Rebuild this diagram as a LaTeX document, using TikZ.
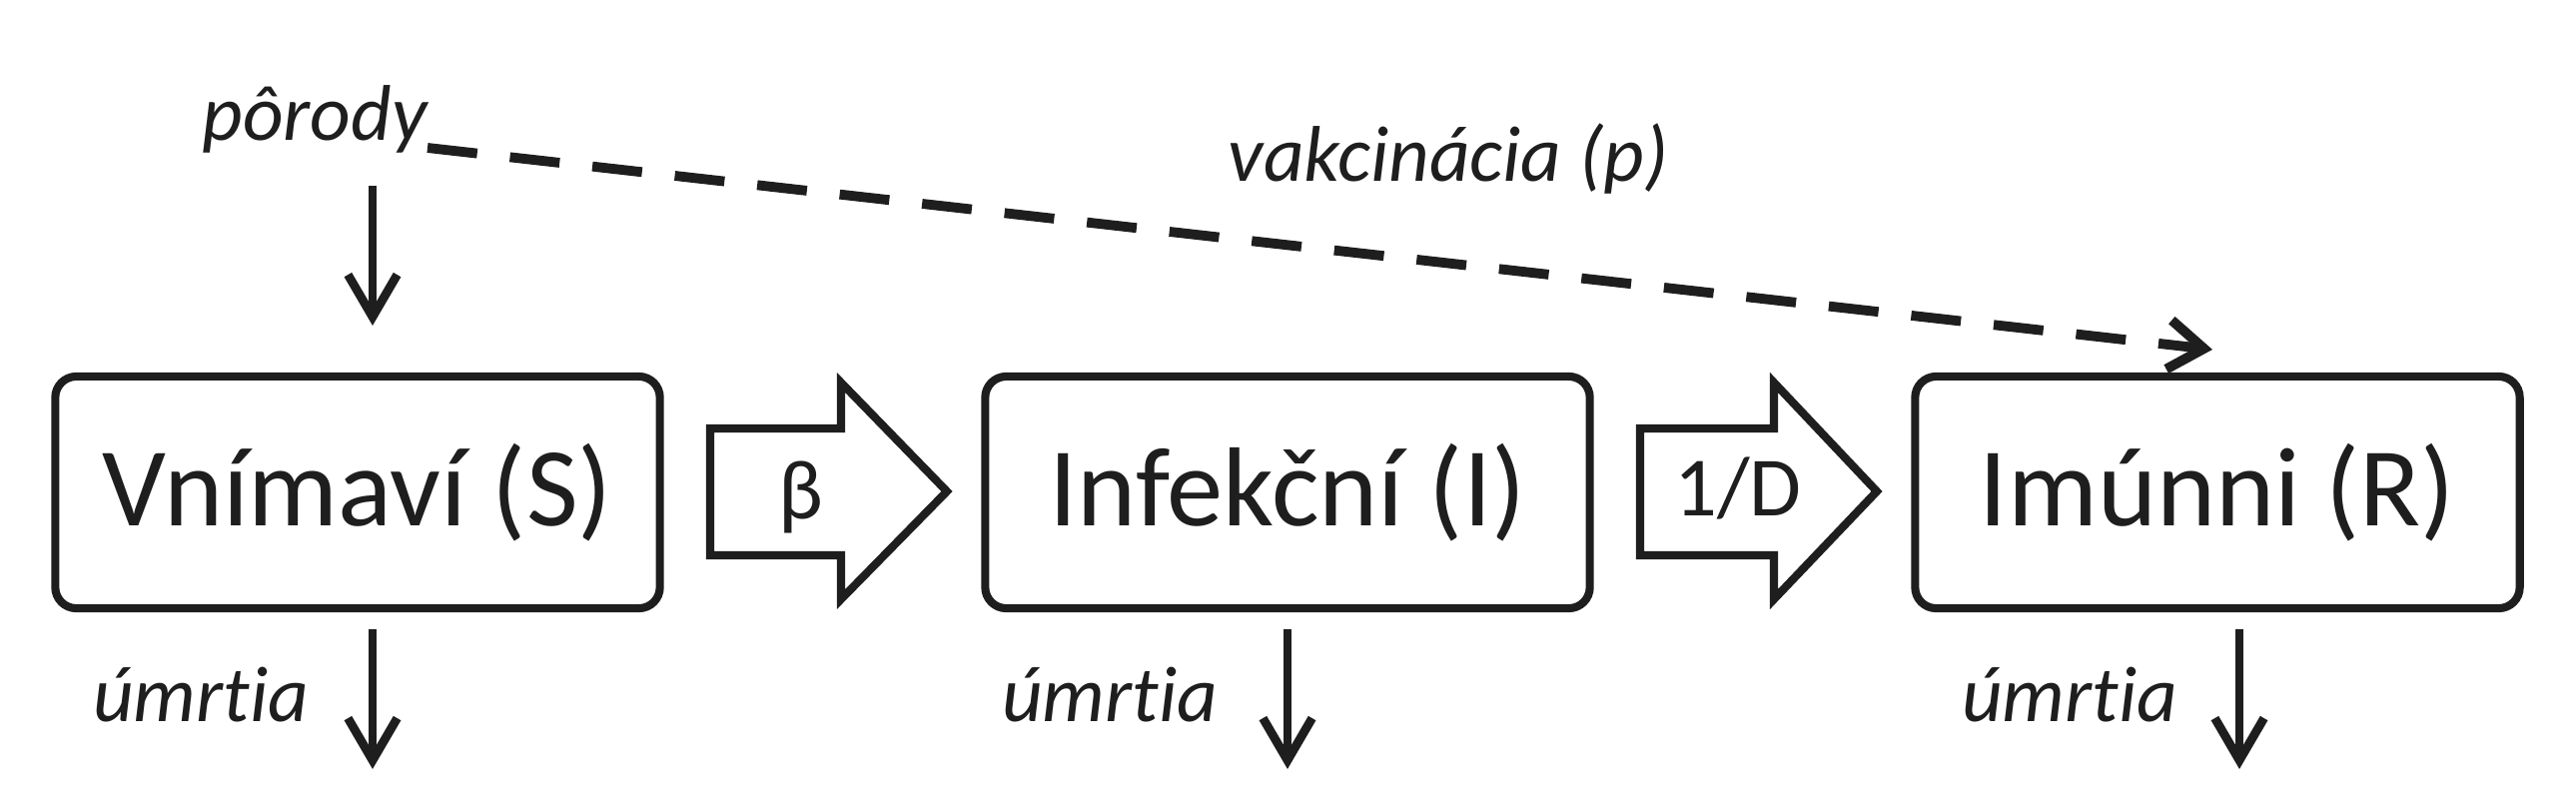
\documentclass[tikz,border=0pt]{standalone}
\usepackage{fontspec}
\setmainfont{Carlito}[Ligatures={NoCommon}]
\usetikzlibrary{arrows.meta}
\definecolor{ink}{RGB}{30,30,30}
\begin{document}
\begin{tikzpicture}[x=0.01cm,y=-0.01cm,
  box/.style={draw=ink, line width=2.3pt, rounded corners=6pt, minimum width=6.05cm, minimum height=2.32cm, inner sep=0pt, font=\fontsize{32}{38}\selectfont, text=ink},
  lab/.style={font=\itshape\fontsize{22.5}{27}\selectfont, text=ink, inner sep=0pt, anchor=base},
  flow/.style={draw=ink, line width=2.3pt, fill=white},
  rate/.style={font=\fontsize{24}{29}\selectfont, text=ink, inner sep=0pt, anchor=base},
  lifeline/.style={draw=ink, line width=2.5pt, -{Straight Barb[length=12pt,width=14pt,line width=2.5pt]}},
  vacc/.style={draw=ink, line width=2.8pt, dash pattern=on 0.5cm off 0.33cm, -{Straight Barb[length=10pt,width=14pt,line width=2.8pt]}}
]
\useasboundingbox (0,0) rectangle (2579,800);
% compartments
\node[box] (S) at (358,493) {Vnímaví (S)};
\node[box] (I) at (1289,493) {Infekční (I)};
\node[box] (R) at (2220,493) {Imúnni (R)};
% block arrows
\draw[flow] (711,429) -- (842,429) -- (842,383) -- (948,492) -- (842,600) -- (842,556) -- (711,556) -- cycle;
\node[rate] (beta) at (802,519) {β};
\draw[flow] (1642,429) -- (1776,429) -- (1776,383) -- (1879,492) -- (1776,600) -- (1776,556) -- (1642,556) -- cycle;
\node[rate] (rec) at (1740,516) {1/D};
% births
\node[lab] (births) at (315,140) {pôrody};
\coordinate (b1) at (373,186);
\coordinate (b2) at (373,326);
\draw[lifeline] (b1) -- (b2);
% vaccination
\coordinate (v1) at (428,148);
\coordinate (v2) at (2215,350);
\draw[vacc] (v1) -- (v2);
\node[lab] (vaccl) at (1450,181) {vakcinácia (p)};
% deaths
\coordinate (dS1) at (373,630);
\coordinate (dS2) at (373,770);
\draw[lifeline] (dS1) -- (dS2);
\node[lab] (deathS) at (201,722) {úmrtia};
\coordinate (dI1) at (1289,630);
\coordinate (dI2) at (1289,770);
\draw[lifeline] (dI1) -- (dI2);
\node[lab] (deathI) at (1111,722) {úmrtia};
\coordinate (dR1) at (2242,630);
\coordinate (dR2) at (2242,770);
\draw[lifeline] (dR1) -- (dR2);
\node[lab] (deathR) at (2072,722) {úmrtia};
\end{tikzpicture}
\end{document}
